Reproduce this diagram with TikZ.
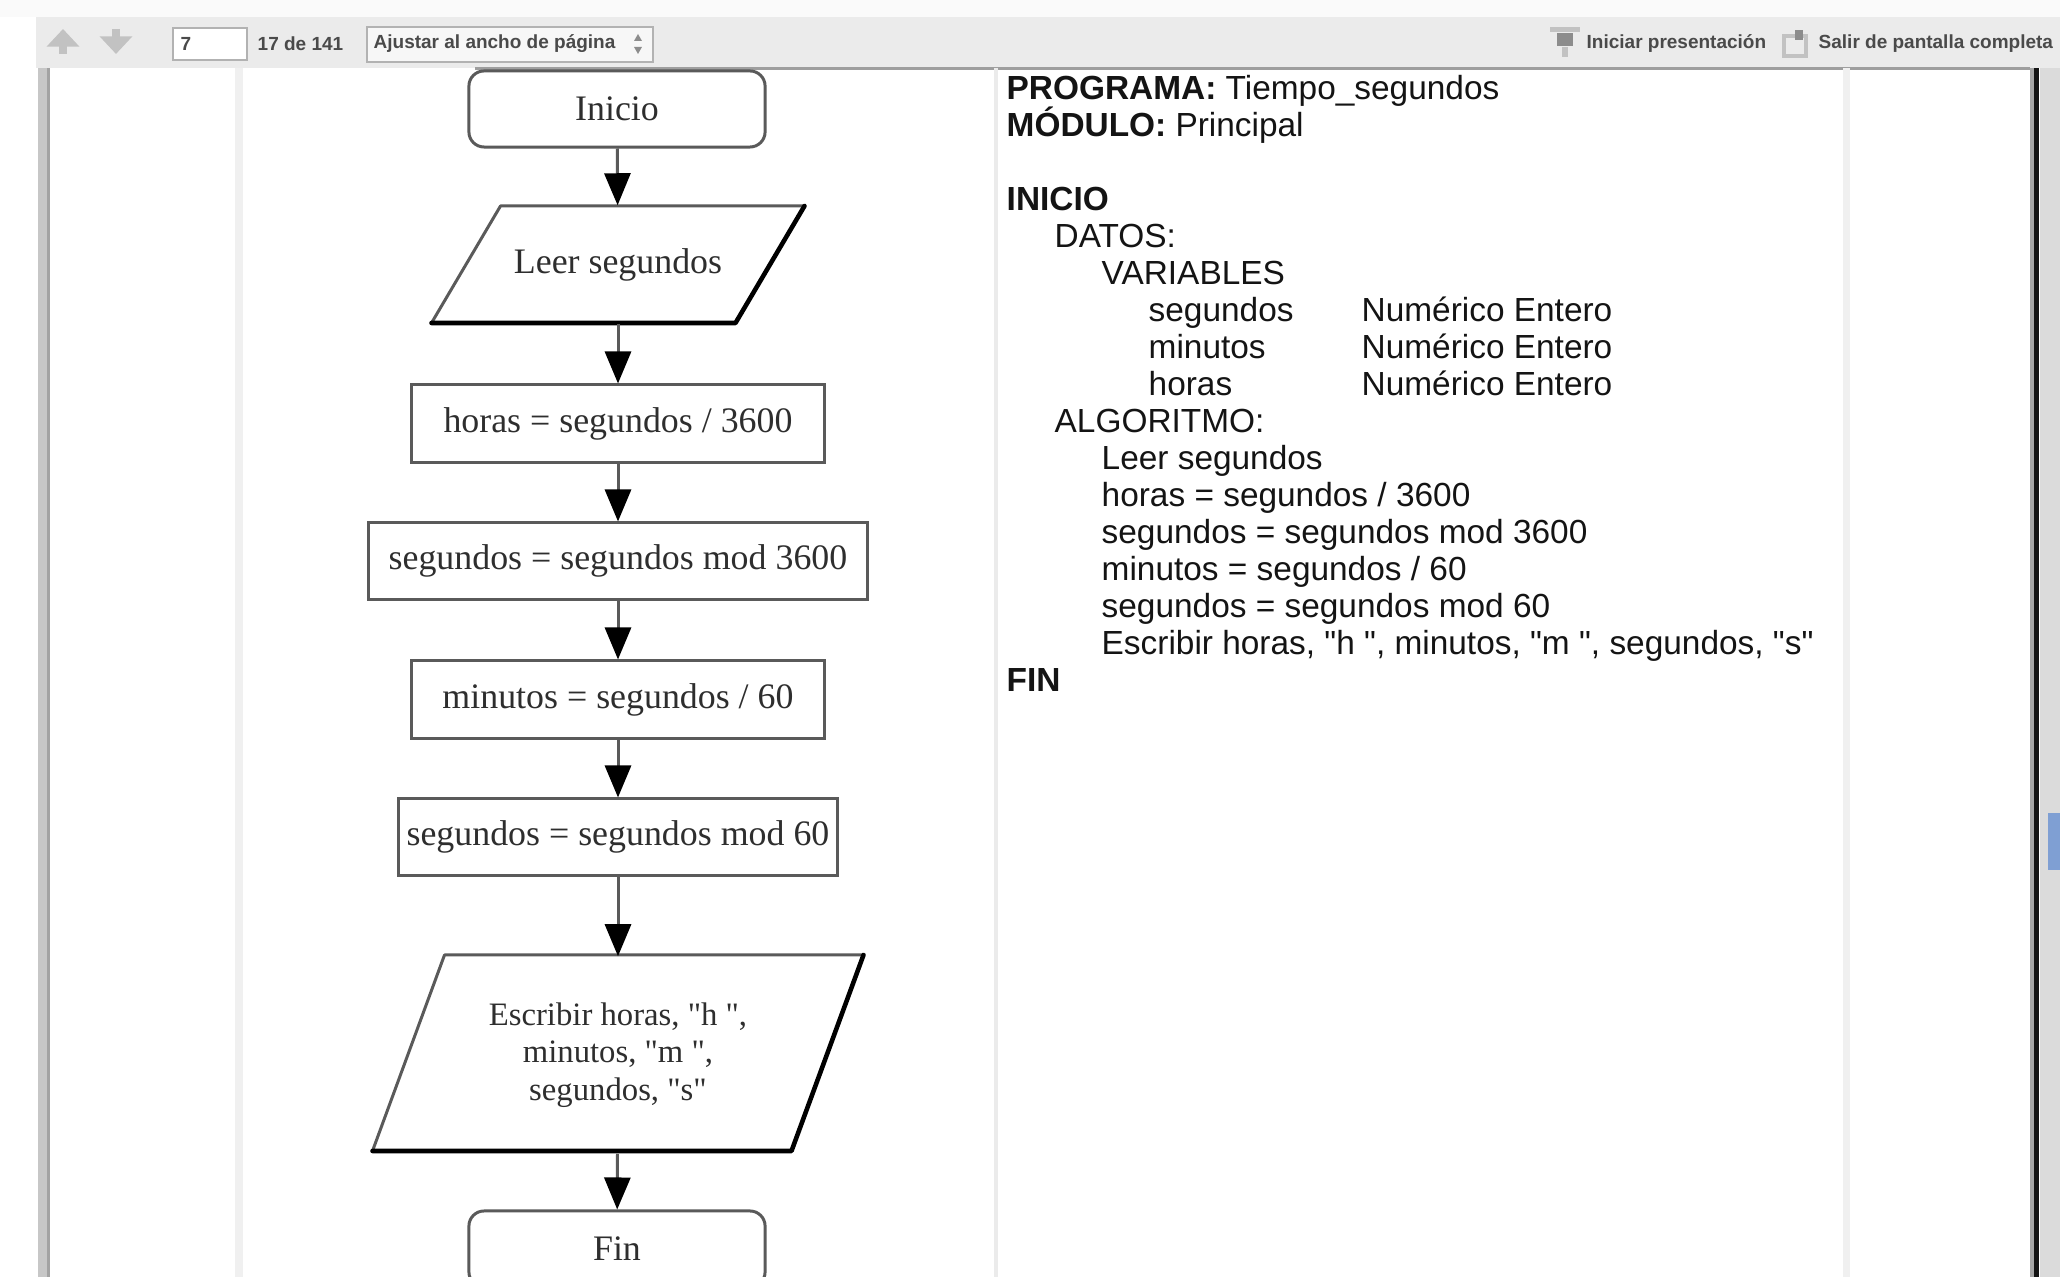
\documentclass[tikz,border=0pt]{standalone}
\usepackage{fontspec}
\setmainfont{Liberation Serif}[Ligatures=TeXOff]
\setsansfont{Liberation Sans}[Ligatures=TeXOff]
\usetikzlibrary{arrows.meta,calc}

\definecolor{boxgray}{HTML}{5A5A5A}
\definecolor{txtgray}{HTML}{2E2E2E}
\definecolor{barbg}{HTML}{EBEBEB}
\definecolor{bartxt}{HTML}{4A4A4A}
\definecolor{icongray}{HTML}{C2C2C2}
\definecolor{thumbblue}{HTML}{7F9FD3}

\tikzset{
    proc/.style={draw=boxgray, line width=0.85pt, inner sep=0pt, minimum height=0.77cm,
        font=\fontsize{10.2}{12}\selectfont, text=txtgray},
    term/.style={proc, rounded corners=4.3pt, minimum width=2.96cm, minimum height=0.76cm},
    io/.style={inner sep=0pt, font=\fontsize{10.2}{12}\selectfont, text=txtgray},
    iobox/.style={draw=boxgray, line width=0.85pt, line join=round},
    ioedge/.style={draw=black, line width=1.3pt, line join=round, line cap=round},
    flow/.style={draw=boxgray, line width=0.85pt, -{Triangle[length=9.1pt, width=7.4pt, color=black]}},
    code/.style={anchor=base west, inner sep=0pt, font=\sffamily\fontsize{9.5}{11}\selectfont, text=black!92},
    bar/.style={anchor=west, inner sep=0pt, font=\sffamily\bfseries\fontsize{5.4}{6}\selectfont, text=bartxt},
}

\begin{document}
\begin{tikzpicture}[x=0.01cm, y=-0.01cm]
    \useasboundingbox (0,0) rectangle (2060,1277);
    \clip (0,0) rectangle (2060,1277);
    \fill[white] (0,0) rectangle (2060,1277);
    \fill[black!2] (0,0) rectangle (2060,17);

    % barra del visor
    \fill[barbg] (36,17) rectangle (2060,68);
    \draw[black!38, line width=0.85pt] (475,69) -- (2030,69);
    \draw[icongray, line width=2.4pt, -{Triangle[length=5pt, width=9pt]}] (63,54) -- (63,29);
    \draw[icongray, line width=2.4pt, -{Triangle[length=5pt, width=9pt]}] (116,29) -- (116,54);
    \draw[black!30, fill=white, line width=0.6pt] (173,28) rectangle (247,60);
    \node[bar] (pag) at (180,44) {7};
    \node[bar] (total) at (257,44) {17 de 141};
    \draw[black!30, fill=black!3, line width=0.6pt] (367,27) rectangle (653,62);
    \node[bar] (zoomsel) at (373,44) {Ajustar al ancho de página};
    \fill[black!45] (634,41) -- (642,41) -- (638,34) -- cycle;
    \fill[black!45] (634,47) -- (642,47) -- (638,54) -- cycle;
    \fill[icongray] (1550,27) rectangle (1580,32);
    \fill[black!45] (1557,33) rectangle (1573,46);
    \fill[icongray] (1562,47) rectangle (1568,57);
    \node[bar] (present) at (1586,44) {Iniciar presentación};
    \draw[icongray, line width=1.2pt] (1784,36) rectangle (1806,56);
    \fill[black!45] (1795,30) rectangle (1803,40);
    \node[bar] (salir) at (1818,44) {Salir de pantalla completa};

    % bordes de la pagina
    \fill[black!22] (38,68) rectangle (47,1277);
    \fill[black!36] (47,68) rectangle (50,1277);
    \fill[black!6] (235,68) rectangle (243,1277);
    \fill[black!8] (994,68) rectangle (998,1277);
    \fill[black!6] (1843,68) rectangle (1850,1277);
    \fill[black!35] (2030,68) rectangle (2034,1277);
    \fill[black!92] (2034,68) rectangle (2039,1277);
    \fill[black!14] (2040,68) rectangle (2060,1277);
    \fill[thumbblue] (2048,813) rectangle (2060,870);

    % diagrama de flujo
    \node[term] (inicio) at (617,109) {Inicio};
    \node[io, minimum width=3.04cm, minimum height=1.17cm] (leer) at (618,264.5) {Leer segundos};
    \draw[iobox] ($(leer)+(-117.5,-58.5)$) -- ($(leer)+(186.5,-58.5)$) -- ($(leer)+(117.5,58.5)$)
        -- ($(leer)+(-186.5,58.5)$) -- cycle;
    \draw[ioedge] ($(leer)+(186.5,-58.5)$) -- ($(leer)+(117.5,58.5)$) -- ($(leer)+(-186.5,58.5)$);
    \node[proc, minimum width=4.12cm] (horas) at (618,423.5) {horas = segundos / 3600};
    \node[proc, minimum width=4.98cm, minimum height=0.76cm] (mod3600) at (618,561) {segundos = segundos mod 3600};
    \node[proc, minimum width=4.12cm] (minutos) at (618,699.5) {minutos = segundos / 60};
    \node[proc, minimum width=4.39cm, minimum height=0.76cm] (mod60) at (618,837) {segundos = segundos mod 60};
    \node[io, minimum width=4.19cm, minimum height=1.96cm, align=center,
        font=\fontsize{9.3}{10.67}\selectfont] (escribir) at (618,1055)
        {Escribir horas, "h ",\\minutos, "m ",\\segundos, "s"};
    \draw[iobox] ($(escribir)+(-173.5,-100)$) -- ($(escribir)+(245.5,-100)$) -- ($(escribir)+(173.5,96)$)
        -- ($(escribir)+(-245.5,96)$) -- cycle;
    \draw[ioedge] ($(escribir)+(245.5,-100)$) -- ($(escribir)+(173.5,96)$) -- ($(escribir)+(-245.5,96)$);
    \node[term] (fin) at (617,1249) {Fin};

    \draw[flow] (inicio) -- (leer);
    \draw[flow] (leer) -- (horas);
    \draw[flow] (horas) -- (mod3600);
    \draw[flow] (mod3600) -- (minutos);
    \draw[flow] (minutos) -- (mod60);
    \draw[flow] (mod60) -- (escribir);
    \draw[flow] (escribir) -- (fin);

    % pseudocodigo
    \node[code] (prog) at (1006,99.7) {\textbf{PROGRAMA:} Tiempo\_segundos};
    \node[code] (modulo) at (1006,136.7) {\textbf{MÓDULO:} Principal};
    \node[code] (ini) at (1006,210.7) {\textbf{INICIO}};
    \node[code] (datos) at (1054,247.7) {DATOS:};
    \node[code] (vars) at (1101,284.7) {VARIABLES};
    \foreach \v [count=\i] in {segundos,minutos,horas}{
        \node[code] (var\i) at (1148,284.7+37*\i) {\v};
        \node[code] (tipo\i) at (1361,284.7+37*\i) {Numérico Entero};
    }
    \node[code] (algo) at (1054,432.7) {ALGORITMO:};
    \node[code] (a1) at (1101,469.7) {Leer segundos};
    \node[code] (a2) at (1101,506.7) {horas = segundos / 3600};
    \node[code] (a3) at (1101,543.7) {segundos = segundos mod 3600};
    \node[code] (a4) at (1101,580.7) {minutos = segundos / 60};
    \node[code] (a5) at (1101,617.7) {segundos = segundos mod 60};
    \node[code] (a6) at (1101,654.7) {Escribir horas, "h ", minutos, "m ", segundos, "s"};
    \node[code] (finT) at (1006,691.7) {\textbf{FIN}};
\end{tikzpicture}
\end{document}
